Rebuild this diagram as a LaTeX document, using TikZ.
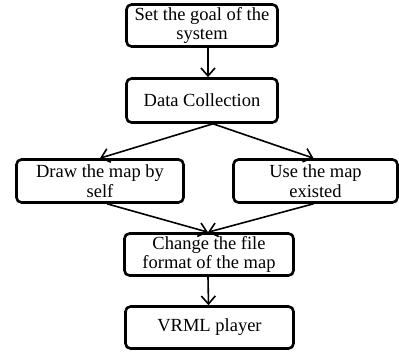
\documentclass[tikz,border=0pt]{standalone}
\usepackage{fontspec}
\setmainfont{Liberation Serif}
\usetikzlibrary{arrows.meta}

\begin{document}
\begin{tikzpicture}[x=1pt, y=-1pt, >={Straight Barb[length=8pt,width=14pt]},
    stage/.style={draw, line width=2.6pt, rounded corners=5pt, align=center,
                  inner sep=1pt, minimum height=42pt,
                  font=\fontsize{18.5}{19.5}\selectfont},
    flow/.style={->, line width=1.6pt}]
  \useasboundingbox (0,0) rectangle (399,354);
  \node[stage, minimum width=151pt] (goal)    at (202,25.5)  {Set the goal of the\\system};
  \node[stage, minimum width=151pt, minimum height=44pt]
                                    (collect) at (202,100.5) {Data Collection};
  \node[stage, minimum width=167pt, minimum height=43pt]
                                    (selfmap) at (100,181)   {Draw the map by\\self};
  \node[stage, minimum width=164pt, minimum height=43pt]
                                    (oldmap)  at (315.5,181) {Use the map\\existed};
  \node[stage, minimum width=169pt] (convert) at (209,254.5) {Change the file\\format of the map};
  \node[stage, minimum width=168pt] (player)  at (209.5,327.5) {VRML player};
  \draw[flow] ([xshift=6pt]goal.south) -- ([xshift=6pt]collect.north);
  \draw[flow] ([xshift=11pt]collect.south) -- (selfmap.north);
  \draw[flow] ([xshift=11pt]collect.south) -- ([xshift=-2pt]oldmap.north);
  \draw[flow] ([xshift=7pt]selfmap.south) -- ([xshift=-1pt]convert.north);
  \draw[flow] ([xshift=-2pt]oldmap.south) -- ([xshift=-1pt]convert.north);
  \draw[flow] ([xshift=-1pt]convert.south) -- ([xshift=-1pt]player.north);
\end{tikzpicture}
\end{document}
